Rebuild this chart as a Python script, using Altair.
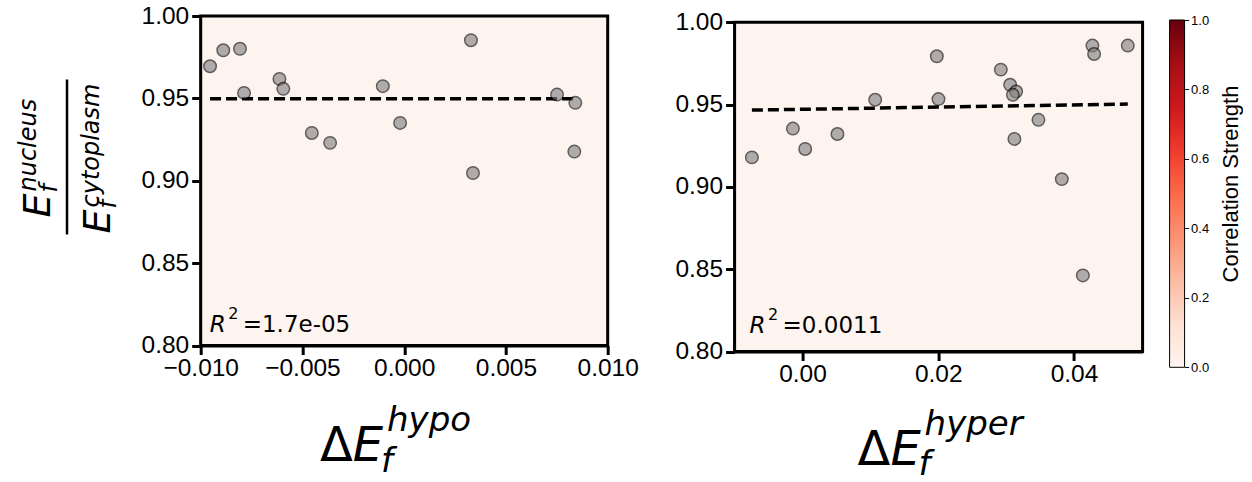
import altair as alt
import pandas as pd

# ---------------- data ----------------
hypo_x = [-0.00954, -0.00889, -0.00807, -0.00787, -0.00613, -0.00594, -0.00454, -0.00364,
          -0.00105, -0.00020, 0.00328, 0.00338, 0.00751, 0.00841, 0.00836]
hypo_y = [0.9695, 0.9792, 0.9801, 0.9533, 0.9618, 0.9558, 0.9290, 0.9230,
          0.9574, 0.9351, 0.9853, 0.9047, 0.9523, 0.9473, 0.9177]
hyper_x = [-0.00745, -0.00141, 0.00040, 0.00515, 0.01071, 0.01979, 0.02003, 0.02922, 0.03059,
           0.03147, 0.03099, 0.03122, 0.03476, 0.03820, 0.04130, 0.04271, 0.04296, 0.04792]
hyper_y = [0.9179, 0.9354, 0.9230, 0.9321, 0.9529, 0.9793, 0.9533, 0.9712, 0.9620,
           0.9579, 0.9559, 0.9291, 0.9407, 0.9047, 0.8462, 0.9858, 0.9807, 0.9858]
hypo_fit_x = [-0.00954, 0.00841]
hypo_fit_y = [0.9497, 0.9497]
hyper_fit_x = [-0.00745, 0.04792]
hyper_fit_y = [0.9466, 0.9503]
r2_labels = ["=1.7e-05", "=0.0011"]
y_domain = [0.80, 1.00]
y_ticks = [0.80, 0.85, 0.90, 0.95, 1.00]
hypo_domain = [-0.010, 0.010]
hypo_ticks = [-0.010, -0.005, 0.000, 0.005, 0.010]
hyper_domain = [-0.0100, 0.0501]
hyper_ticks = [0.00, 0.02, 0.04]
cbar_ticks = [0.0, 0.2, 0.4, 0.6, 0.8, 1.0]
reds = ["#fff5f0", "#fee0d2", "#fcbba1", "#fc9272", "#fb6a4a",
        "#ef3b2c", "#cb181d", "#a50f15", "#67000d"]
panel_bg = "#fdf3ef"

AX = dict(domainColor="black", domainWidth=3, tickColor="black", tickWidth=3, tickSize=9,
          labelFont="Liberation Sans", labelFontSize=24.5, labelColor="black",
          grid=False, title=None, labelFlush=False, labelOverlap=False)
ONE = alt.Data(values=[{"k": 0}])


def text_layer(s, x, y, size, italic=False, angle=0, font="DejaVu Sans"):
    return alt.Chart(ONE).mark_text(
        text=s, font=font, fontSize=size, fontStyle="italic" if italic else "normal",
        angle=angle, align="left", baseline="alphabetic", color="black"
    ).encode(x=alt.value(x), y=alt.value(y))


def panel(xs, ys, fx, fy, xdom, xticks, xfmt, w, h, top, extras):
    pts = pd.DataFrame({"x": xs, "y": ys})
    fit = pd.DataFrame({"x": fx, "y": fy})
    xscale = alt.Scale(domain=xdom, nice=False, zero=False)
    yscale = alt.Scale(domain=y_domain, nice=False, zero=False, range=[h + top, top])
    xaxis = alt.Axis(values=xticks, format=xfmt, labelPadding=2, **AX)
    yaxis = alt.Axis(values=y_ticks, format=".2f", labelPadding=3, **AX)
    xenc = alt.X("x:Q", scale=xscale, axis=xaxis)
    yenc = alt.Y("y:Q", scale=yscale, axis=yaxis)
    frame = alt.Chart(ONE).mark_rect(fill=panel_bg, stroke="black", strokeWidth=3).encode(
        x=alt.XDatum(xdom[0], type="quantitative", scale=xscale, axis=xaxis),
        x2=alt.X2Datum(xdom[1]),
        y=alt.YDatum(y_domain[0], type="quantitative", scale=yscale, axis=yaxis),
        y2=alt.Y2Datum(y_domain[1]),
    )
    line = alt.Chart(fit).mark_line(color="black", strokeWidth=3.5, strokeDash=[11, 5]).encode(
        x=xenc, y=yenc)
    dots = alt.Chart(pts).mark_point(shape="circle", filled=True, size=155, fill="#808080",
                                     stroke="black", strokeWidth=1.5, opacity=0.62).encode(
        x=xenc, y=yenc)
    return alt.layer(frame, line, dots, *extras).properties(
        width=w, height=h + top,
        view=alt.ViewBackground(fill="transparent", stroke="transparent"))


# ---- left panel text (positions relative to plot origin) ----
left_extras = [
    # R^2 annotation
    text_layer("R", 9, 316.5, 23, italic=True),
    text_layer("2", 27.5, 303.5, 16),
    text_layer(r2_labels[0], 42, 316.5, 23),
    # x title  ΔE_f^hypo
    text_layer("Δ", 119.3, 445.5, 48),
    text_layer("E", 152.1, 445.5, 48, italic=True),
    text_layer("f", 180.3, 456, 34, italic=True),
    text_layer("hypo", 186.3, 415.5, 34, italic=True),
    # y title  E_f^nucleus / E_f^cytoplasm (rotated)
    text_layer("E", -150.7, 201.5, 38, italic=True, angle=270),
    text_layer("nucleus", -164.7, 175.5, 24, italic=True, angle=270),
    text_layer("f", -143.7, 176.5, 24, italic=True, angle=270),
    text_layer("E", -90.7, 217.5, 38, italic=True, angle=270),
    text_layer("cytoplasm", -101.7, 191.5, 24, italic=True, angle=270),
    text_layer("f", -84.7, 192.5, 24, italic=True, angle=270),
    alt.Chart(ONE).mark_rule(color="black", strokeWidth=2.5).encode(
        x=alt.value(-133.7), y=alt.value(63.5), y2=alt.value(218.5)),
]

RT = 6.2  # right panel sits a little lower than the left one
right_extras = [
    text_layer("R", 15, 311.3 + RT, 23, italic=True),
    text_layer("2", 33.5, 298.3 + RT, 16),
    text_layer(r2_labels[1], 48, 311.3 + RT, 23),
    text_layer("Δ", 123, 443 + RT, 48),
    text_layer("E", 155.8, 443 + RT, 48, italic=True),
    text_layer("f", 184, 453 + RT, 34, italic=True),
    text_layer("hyper", 190, 413 + RT, 34, italic=True),
]

left = panel(hypo_x, hypo_y, hypo_fit_x, hypo_fit_y, hypo_domain, hypo_ticks, ".3f",
             407, 329.5, 0, left_extras)
right = panel(hyper_x, hyper_y, hyper_fit_x, hyper_fit_y, hyper_domain, hyper_ticks, ".2f",
              408, 329.3, RT, right_extras)

grad = alt.LinearGradient(
    gradient="linear",
    stops=[alt.GradientStop(color=c, offset=i / (len(reds) - 1)) for i, c in enumerate(reds)],
    x1=0, x2=0, y1=1, y2=0)

CT = 4.0  # colorbar top offset
CH = 347.3
cbar = alt.Chart(ONE).mark_rect(
    fill=grad, stroke="black", strokeWidth=1
).encode(
    x=alt.value(3), x2=alt.value(18),
    y=alt.YDatum(1.0, type="quantitative",
                 scale=alt.Scale(domain=[0, 1], nice=False, zero=False, range=[CH + CT, CT]),
                 axis=alt.Axis(orient="right", values=cbar_ticks, format=".1f", domain=False,
                               tickColor="black", tickWidth=1, tickSize=4, labelPadding=2,
                               labelFont="Liberation Sans", labelFontSize=13, labelColor="black",
                               labelFlush=False, grid=False,
                               title="Correlation Strength", titleFont="Liberation Sans",
                               titleFontSize=22, titleFontWeight="normal", titleColor="black",
                               titleAngle=270, titleBaseline="top", titleX=36, titleY=167.5)),
    y2=alt.Y2Datum(0.0),
).properties(width=18, height=CH + CT,
             view=alt.ViewBackground(fill="transparent", stroke="transparent"))

chart = alt.hconcat(
    left,
    alt.hconcat(right, cbar, spacing=21),
    spacing=33.9,
).properties(
    padding={"left": 15.7, "top": 2, "right": 0, "bottom": 0},
    background="white",
)

chart.save("out.html", embed_options={"renderer": "svg", "actions": False})
